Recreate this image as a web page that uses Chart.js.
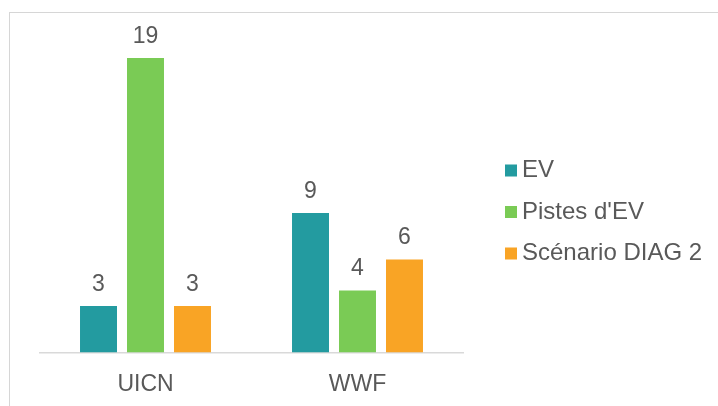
<!DOCTYPE html>
<html>
<head>
<meta charset="utf-8">
<script src="https://cdn.jsdelivr.net/npm/chart.js@4/dist/chart.umd.min.js"></script>
<style>
    html, body { margin: 0; padding: 0; background: #fff; }
    #wrap { position: relative; width: 718px; height: 406px; overflow: hidden; }
    #frame { position: absolute; left: 9px; top: 12px; width: 760px; height: 460px; border: 1.5px solid #d6d6d6; }
    #chart { position: absolute; left: 0; top: 0; }
</style>
</head>
<body>
<div id="wrap">
    <div id="frame"></div>
    <canvas id="chart" width="718" height="420"></canvas>
</div>
<script>
const categories = ["UICN", "WWF"];
const seriesNames = ["EV", "Pistes d'EV", "Scénario DIAG 2"];
const evValues = [3, 9];
const pistesValues = [19, 4];
const diagValues = [3, 6];
const seriesColors = ["#239ba0", "#7acb55", "#f9a425"];

const textColor = "#595959";
const fontFamily = "'Liberation Sans', Arial, sans-serif";

Chart.defaults.font.family = fontFamily;

// numbers above each bar
const valueLabels = {
    id: "valueLabels",
    afterDatasetsDraw(chart) {
        const ctx = chart.ctx;
        ctx.save();
        ctx.font = "23px " + fontFamily;
        ctx.fillStyle = textColor;
        ctx.textAlign = "center";
        ctx.textBaseline = "alphabetic";
        chart.data.datasets.forEach((ds, i) => {
            chart.getDatasetMeta(i).data.forEach((bar, j) => {
                ctx.fillText(String(ds.data[j]), bar.x, bar.y - 15.5);
            });
        });
        ctx.restore();
    }
};

// legend on the right, drawn by hand to get the spacing right
const sideLegend = {
    id: "sideLegend",
    afterDraw(chart) {
        const ctx = chart.ctx;
        const boxX = 505;
        const firstY = 170.5;
        const step = 41.5;
        ctx.save();
        ctx.font = "24px " + fontFamily;
        ctx.textBaseline = "middle";
        ctx.textAlign = "left";
        chart.data.datasets.forEach((ds, i) => {
            const y = firstY + i * step;
            ctx.fillStyle = ds.backgroundColor;
            ctx.fillRect(boxX, y - 6, 12, 12);
            ctx.fillStyle = textColor;
            ctx.fillText(ds.label, boxX + 17, y);
        });
        ctx.restore();
    }
};

const ctx = document.getElementById("chart").getContext("2d");

new Chart(ctx, {
    type: "bar",
    data: {
        labels: categories,
        datasets: [
            { label: seriesNames[0], data: evValues, backgroundColor: seriesColors[0] },
            { label: seriesNames[1], data: pistesValues, backgroundColor: seriesColors[1] },
            { label: seriesNames[2], data: diagValues, backgroundColor: seriesColors[2] }
        ]
    },
    options: {
        responsive: false,
        animation: false,
        datasets: {
            bar: { categoryPercentage: 0.665, barPercentage: 0.787 }
        },
        layout: {
            padding: { left: 39.5, right: 254.5, top: 42.5, bottom: 3.9 }
        },
        plugins: {
            legend: { display: false },
            tooltip: { enabled: false }
        },
        scales: {
            x: {
                grid: { display: false, drawTicks: false },
                border: { display: true, color: "#d9d9d9", width: 1.5 },
                ticks: { color: textColor, font: { size: 23 }, padding: 18 }
            },
            y: { display: false, min: 0, max: 20 }
        }
    },
    plugins: [valueLabels, sideLegend]
});
</script>
</body>
</html>
